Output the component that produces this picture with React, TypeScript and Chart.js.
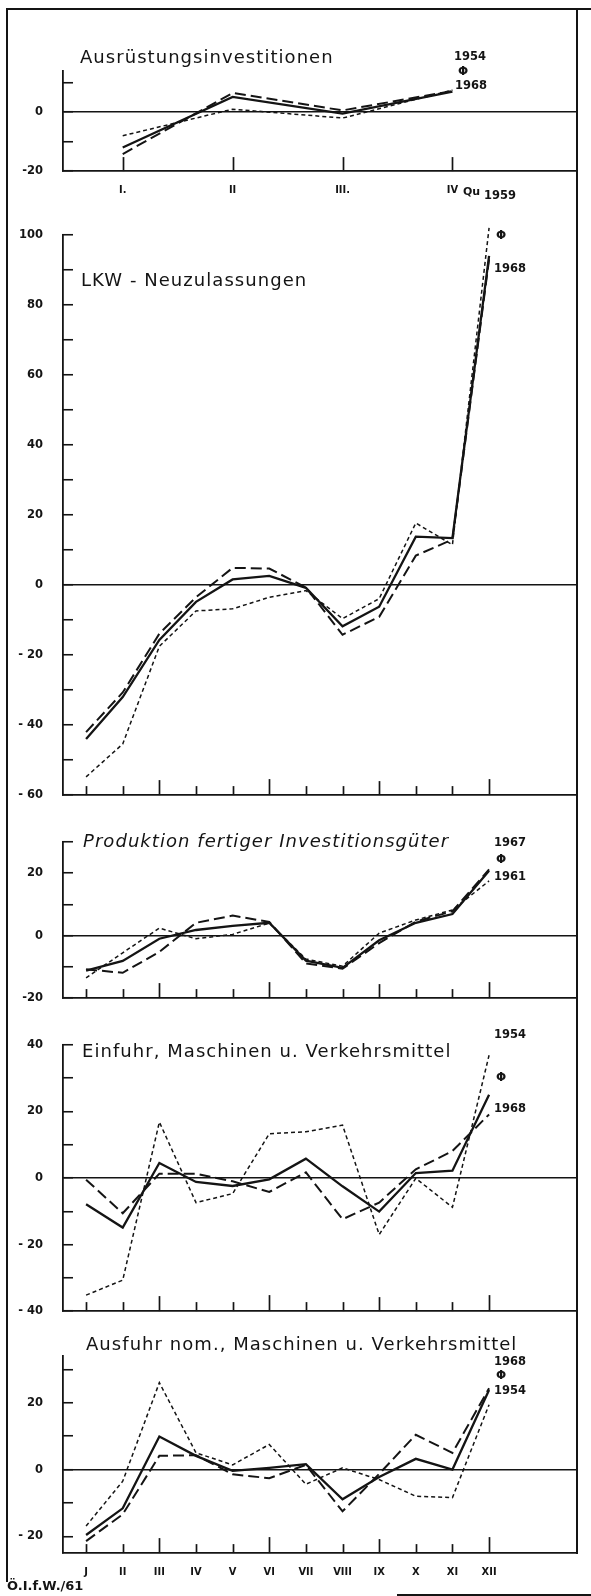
import React, { useEffect, useRef } from 'react';
import { Chart, registerables } from 'chart.js';

Chart.register(...registerables);

// ---------------- data ----------------
const MONTH_LABELS = ['J', 'II', 'III', 'IV', 'V', 'VI', 'VII', 'VIII', 'IX', 'X', 'XI', 'XII'];
const MONTH_X = [0, 1, 2, 3, 4, 5, 6, 7, 8, 9, 10, 11];
const QUARTER_LABELS = ['I.', 'II', 'III.', 'IV'];
const QUARTER_X = [1, 4, 7, 10];

// Ausrüstungsinvestitionen (quarters)
const AUS_SOLID = [-12, 5.2, -0.5, 7];
const AUS_LONG = [-14.2, 6.5, 0.6, 7.2];
const AUS_SHORT = [-8, 1, -2, 7.5];
const AUS_Y_TICKS = [-20, -10, 0, 10];
const AUS_Y_LABELS = ['-20', '', '0', ''];

// LKW-Neuzulassungen
const LKW_SOLID = [-44, -32, -15.7, -4.8, 1.6, 2.6, -0.8, -11.8, -6.2, 13.8, 13.4, 94];
const LKW_LONG = [-42, -30.7, -13.9, -3.5, 4.9, 4.7, -0.7, -14.2, -9.1, 8.4, 13, 93];
const LKW_SHORT = [-54.8, -45.4, -17.5, -7.4, -6.8, -3.5, -1.6, -9.6, -3.9, 17.7, 11.5, 102];
const LKW_Y_TICKS = [-60, -50, -40, -30, -20, -10, 0, 10, 20, 30, 40, 50, 60, 70, 80, 90, 100];
const LKW_Y_LABELS = ['- 60', '', '- 40', '', '- 20', '', '0', '', '20', '', '40', '', '60', '', '80', '', '100'];

// Produktion fertiger Investitionsgüter
const PROD_SOLID = [-11.2, -8.1, -1, 1.8, 3.1, 4.1, -8, -10.3, -1.5, 4.1, 6.9, 20.8];
const PROD_LONG = [-10.8, -11.9, -5.2, 4.1, 6.4, 4.4, -8.9, -10.6, -2.4, 4.5, 7.8, 21.2];
const PROD_SHORT = [-13.5, -5.5, 2.4, -1, 0.4, 4, -7.5, -9.8, 0.8, 5, 8.2, 17.5];
const PROD_Y_TICKS = [-20, -10, 0, 10, 20, 30];
const PROD_Y_LABELS = ['-20', '', '0', '', '20', ''];

// Einfuhr, Maschinen u. Verkehrsmittel
const EIN_SOLID = [-7.9, -14.9, 4.5, -1.2, -2.4, -0.4, 5.8, -2.5, -10.1, 1.5, 2.2, 25];
const EIN_LONG = [-0.5, -10.6, 1.3, 1.3, -1, -4.2, 1.7, -12.4, -7.4, 2.6, 8.1, 19.1];
const EIN_SHORT = [-35.2, -30.7, 16.8, -7.4, -4.7, 13.3, 13.9, 15.9, -17, -0.1, -8.8, 36.9];
const EIN_Y_TICKS = [-40, -30, -20, -10, 0, 10, 20, 30, 40];
const EIN_Y_LABELS = ['- 40', '', '- 20', '', '0', '', '20', '', '40'];

// Ausfuhr nom., Maschinen u. Verkehrsmittel
const AUSF_SOLID = [-19.6, -11.6, 9.9, 4.1, -0.4, 0.5, 1.6, -8.9, -2.2, 3.2, 0, 23.8];
const AUSF_LONG = [-21.4, -13.4, 4.1, 4.3, -1.4, -2.6, 1.4, -12.5, -1.3, 10.4, 5, 24.3];
const AUSF_SHORT = [-16.9, -3.5, 26, 5, 1.4, 7.5, -4.4, 0.5, -3, -8, -8.4, 19.4];
const AUSF_Y_TICKS = [-20, -10, 0, 10, 20, 30];
const AUSF_Y_LABELS = ['- 20', '', '0', '', '20', ''];

// ---------------- layout / style ----------------
const INK = '#141414';
const W = 591;
const H = 1596;
const PLOT_LEFT = 63;
const PLOT_RIGHT = 577;
const PAD_T = 14;
const PAD_B = 34;
const X_MIN = -0.63;
const X_MAX = 13.4;
const MONTH_TICK_LEN = [9, 9, 15, 9, 9, 16, 9, 9, 14, 9, 9, 16];
const QUARTER_TICK_LEN = [14, 14, 14, 14];

type PanelCfg = {
  top: number;
  bottom: number;
  min: number;
  max: number;
  xValues: number[];
  xLabels: string[] | null;
  xTickLen: number[];
  yTicks: number[];
  yLabels: string[];
  solid: number[];
  long: number[];
  short: number[];
};

const PANELS: PanelCfg[] = [
  { top: 48, bottom: 174, min: -20, max: 14, xValues: QUARTER_X, xLabels: QUARTER_LABELS, xTickLen: QUARTER_TICK_LEN, yTicks: AUS_Y_TICKS, yLabels: AUS_Y_LABELS, solid: AUS_SOLID, long: AUS_LONG, short: AUS_SHORT },
  { top: 212, bottom: 798, min: -60, max: 100, xValues: MONTH_X, xLabels: null, xTickLen: MONTH_TICK_LEN, yTicks: LKW_Y_TICKS, yLabels: LKW_Y_LABELS, solid: LKW_SOLID, long: LKW_LONG, short: LKW_SHORT },
  { top: 819, bottom: 1001, min: -20, max: 30, xValues: MONTH_X, xLabels: null, xTickLen: MONTH_TICK_LEN, yTicks: PROD_Y_TICKS, yLabels: PROD_Y_LABELS, solid: PROD_SOLID, long: PROD_LONG, short: PROD_SHORT },
  { top: 1022, bottom: 1314, min: -40, max: 40, xValues: MONTH_X, xLabels: null, xTickLen: MONTH_TICK_LEN, yTicks: EIN_Y_TICKS, yLabels: EIN_Y_LABELS, solid: EIN_SOLID, long: EIN_LONG, short: EIN_SHORT },
  { top: 1333, bottom: 1556, min: -25, max: 34, xValues: MONTH_X, xLabels: MONTH_LABELS, xTickLen: MONTH_TICK_LEN, yTicks: AUSF_Y_TICKS, yLabels: AUSF_Y_LABELS, solid: AUSF_SOLID, long: AUSF_LONG, short: AUSF_SHORT },
];

const toPts = (xs: number[], ys: number[]) => ys.map((y, i) => ({ x: xs[i], y }));

const xTickPlugin = {
  id: 'xTicks',
  afterDraw(chart: any, _args: any, opts: any) {
    const xs = chart.scales.x;
    const ctx = chart.ctx;
    const bottom = chart.chartArea.bottom;
    ctx.save();
    ctx.strokeStyle = INK;
    ctx.lineWidth = 1.7;
    xs.ticks.forEach((t: any, i: number) => {
      const x = Math.round(xs.getPixelForValue(t.value)) + 0.5;
      const len = (opts.lengths && opts.lengths[i]) || 9;
      ctx.beginPath();
      ctx.moveTo(x, bottom);
      ctx.lineTo(x, bottom - len);
      ctx.stroke();
    });
    ctx.restore();
  },
};

function PanelChart({ cfg }: { cfg: PanelCfg }) {
  const ref = useRef<HTMLCanvasElement>(null);
  const h = cfg.bottom - cfg.top + PAD_T + PAD_B;
  useEffect(() => {
    const c = ref.current;
    if (!c) return;
    const line = (vals: number[], width: number, dash: number[]) => ({
      data: toPts(cfg.xValues, vals),
      borderColor: INK,
      borderWidth: width,
      borderDash: dash,
      pointRadius: 0,
      tension: 0,
      fill: false,
      clip: false,
      borderCapStyle: 'butt',
      borderJoinStyle: 'miter',
    });
    const chart = new Chart(c, {
      type: 'line',
      data: {
        datasets: [
          line(cfg.short, 1.5, [4, 3]) as any,
          line(cfg.long, 2, [11, 5]) as any,
          line(cfg.solid, 2.3, []) as any,
        ],
      },
      options: {
        responsive: false,
        animation: false,
        devicePixelRatio: 1,
        events: [],
        layout: { padding: { left: 0, right: W - PLOT_RIGHT, top: PAD_T, bottom: 0 } },
        plugins: {
          legend: { display: false },
          tooltip: { enabled: false },
          xTicks: { lengths: cfg.xTickLen },
        } as any,
        scales: {
          x: {
            type: 'linear',
            min: X_MIN,
            max: X_MAX,
            bounds: 'data',
            afterBuildTicks: (s: any) => {
              s.ticks = cfg.xValues.map((v) => ({ value: v }));
            },
            afterFit: (s: any) => {
              s.height = PAD_B;
            },
            grid: { display: false, drawTicks: false },
            border: { display: true, color: INK, width: 1.8 },
            ticks: {
              display: !!cfg.xLabels,
              autoSkip: false,
              maxRotation: 0,
              minRotation: 0,
              padding: 12,
              color: INK,
              font: { family: "'DejaVu Sans Condensed', 'DejaVu Sans'", weight: 'bold', size: 11 },
              callback: (v: any) => {
                const i = cfg.xValues.indexOf(Number(v));
                return cfg.xLabels && i >= 0 ? cfg.xLabels[i] : '';
              },
            },
          },
          y: {
            type: 'linear',
            min: cfg.min,
            max: cfg.max,
            bounds: 'data',
            afterBuildTicks: (s: any) => {
              s.ticks = cfg.yTicks.map((v) => ({ value: v }));
            },
            afterFit: (s: any) => {
              s.width = PLOT_LEFT;
            },
            grid: {
              display: true,
              drawOnChartArea: true,
              drawTicks: true,
              tickLength: -10,
              tickColor: INK,
              tickWidth: 1.6,
              lineWidth: 1.5,
              color: (ctx: any) => (ctx.tick && ctx.tick.value === 0 ? INK : 'rgba(0,0,0,0)'),
            },
            border: { display: true, color: INK, width: 1.8 },
            ticks: {
              autoSkip: false,
              padding: 30,
              color: INK,
              font: { family: "'DejaVu Sans'", weight: 'bold', size: 11.5 },
              callback: (v: any) => {
                const i = cfg.yTicks.indexOf(Number(v));
                return i >= 0 ? cfg.yLabels[i] : '';
              },
            },
          },
        },
      } as any,
      plugins: [xTickPlugin as any],
    });
    return () => chart.destroy();
  }, [cfg]);
  return (
    <canvas
      ref={ref}
      width={W}
      height={h}
      style={{ position: 'absolute', left: 0, top: cfg.top - PAD_T, width: W, height: h }}
    />
  );
}

const Txt = ({ x, cy, size, bold, italic, spacing, children }: any) => (
  <div
    style={{
      position: 'absolute',
      left: x,
      top: cy - size * 0.52,
      fontFamily: "'DejaVu Sans', sans-serif",
      fontSize: size,
      lineHeight: `${size}px`,
      fontWeight: bold ? 'bold' : 'normal',
      fontStyle: italic ? 'italic' : 'normal',
      letterSpacing: spacing ? `${spacing}px` : 'normal',
      color: INK,
      whiteSpace: 'nowrap',
    }}
  >
    {children}
  </div>
);

const Rule = ({ x, y, w, h }: any) => (
  <div style={{ position: 'absolute', left: x, top: y, width: w, height: h, background: INK }} />
);

const TITLES = [
  { text: 'Ausrüstungsinvestitionen', x: 80, cy: 57, italic: false },
  { text: 'LKW - Neuzulassungen', x: 81, cy: 280, italic: false },
  { text: 'Produktion fertiger Investitionsgüter', x: 83, cy: 841, italic: true },
  { text: 'Einfuhr, Maschinen u. Verkehrsmittel', x: 82, cy: 1051, italic: false },
  { text: 'Ausfuhr nom., Maschinen u. Verkehrsmittel', x: 86, cy: 1344, italic: false },
];

const LEGENDS = [
  { top: '1954', bottom: '1968', xTop: 454, xMid: 458, xBot: 455, cyTop: 57, cyMid: 71, cyBot: 86 },
  { top: '1959', bottom: '1968', xTop: 484, xMid: 496, xBot: 494, cyTop: 196, cyMid: 235, cyBot: 269 },
  { top: '1967', bottom: '1961', xTop: 494, xMid: 496, xBot: 494, cyTop: 843, cyMid: 859, cyBot: 877 },
  { top: '1954', bottom: '1968', xTop: 494, xMid: 496, xBot: 494, cyTop: 1035, cyMid: 1077, cyBot: 1109 },
  { top: '1968', bottom: '1954', xTop: 494, xMid: 496, xBot: 494, cyTop: 1362, cyMid: 1375, cyBot: 1391 },
];

export default function App() {
  return (
    <div style={{ position: 'absolute', left: 0, top: 0, width: W, height: H, background: '#fff', overflow: 'hidden' }}>
      {PANELS.map((p, i) => (
        <PanelChart key={i} cfg={p} />
      ))}
      {/* frame */}
      <Rule x={7} y={8} w={584} h={2} />
      <Rule x={6} y={8} w={2} h={1574} />
      <Rule x={576} y={8} w={2} h={1546} />
      <Rule x={397} y={1594} w={194} h={2} />
      {TITLES.map((t, i) => (
        <Txt key={i} x={t.x} cy={t.cy} size={18} spacing={1.05} italic={t.italic}>
          {t.text}
        </Txt>
      ))}
      {LEGENDS.map((l, i) => (
        <React.Fragment key={i}>
          <Txt x={l.xTop} cy={l.cyTop} size={11.5} bold>
            {l.top}
          </Txt>
          <Txt x={l.xMid} cy={l.cyMid} size={12} bold>
            {'Φ'}
          </Txt>
          <Txt x={l.xBot} cy={l.cyBot} size={11.5} bold>
            {l.bottom}
          </Txt>
        </React.Fragment>
      ))}
      <Txt x={463} cy={192} size={11} bold>
        Qu
      </Txt>
      <Txt x={7} cy={1586} size={13} bold>
        Ö.I.f.W./61
      </Txt>
    </div>
  );
}
